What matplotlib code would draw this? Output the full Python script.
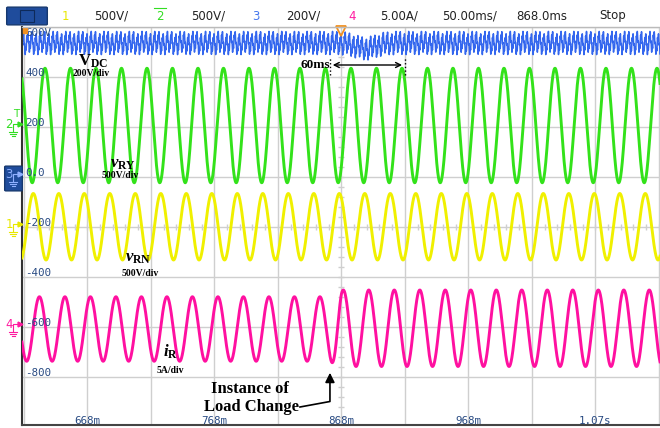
import numpy as np
import matplotlib
matplotlib.use("Agg")
import matplotlib.pyplot as plt
from matplotlib.patches import FancyBboxPatch, Rectangle

plt.rcParams["mathtext.fontset"] = "custom"
plt.rcParams["mathtext.rm"] = "Liberation Serif"
plt.rcParams["mathtext.it"] = "Liberation Serif:italic:bold"
plt.rcParams["mathtext.bf"] = "Liberation Serif:bold"

# scope settings (time in ms, vertical in screen units)
t_left, t_right = 616.5, 1118.9
v_top, v_bottom = 600, -992
t_load = 868.0
period = 20.08

# header texts: (label, x pixel, colour)
header = [("1", 65, "#e8e800"), ("500V/", 111, "#222222"),
          ("2", 160, "#33dd22"), ("500V/", 208, "#222222"),
          ("3", 256, "#4477ee"), ("200V/", 303, "#222222"),
          ("4", 352, "#ff1aa0"), ("5.00A/", 399, "#222222"),
          ("50.00ms/", 470, "#222222"), ("868.0ms", 542, "#222222"),
          ("Stop", 613, "#222222")]

y_ticks = [400, 200, 0, -200, -400, -600, -800]
y_tick_labels = ["400", "200", "0.0", "-200", "-400", "-600", "-800"]
x_ticks = [668, 768, 868, 968, 1068]
x_tick_labels = ["668m", "768m", "868m", "968m", "1.07s"]

# green v_RY: offset, amplitude, time of a peak
vry_offset, vry_amp, vry_peak = 206, 229, 634.6
# yellow v_RN
vrn_offset, vrn_amp, vrn_peak = -199, 133, 625.4
# pink i_R before / after load change
ir_offset = [-608, -605]
ir_amp = [129, 153]
ir_peak = [851.1, 869.5]
# blue V_DC: offset, ripple freqs (Hz) and amplitudes, dip after load change
vdc_offset = 536
vdc_freqs = [300, 1200, 100]
vdc_amps = [32, 13, 6]
vdc_dip_depth, vdc_dip_center, vdc_dip_width = 22, 887, 11

t = np.linspace(t_left, t_right, 8000)
w = 2 * np.pi / period

vry = vry_offset + vry_amp * np.cos(w * (t - vry_peak))
vrn = vrn_offset + vrn_amp * np.cos(w * (t - vrn_peak))

ramp = np.clip((t - (t_load - 10)) / 10, 0, 1)
ir_a = ir_amp[0] + (ir_amp[1] - ir_amp[0]) * ramp
ir_o = ir_offset[0] + (ir_offset[1] - ir_offset[0]) * ramp
ir_p = ir_peak[0] + ((ir_peak[1] - ir_peak[0]) - period) * ramp
ir = ir_o + ir_a * np.cos(w * (t - ir_p))

vdc = np.full_like(t, vdc_offset, dtype=float)
for f, a in zip(vdc_freqs, vdc_amps):
    vdc += a * np.sin(2 * np.pi * f * t / 1000.0)
vdc -= vdc_dip_depth * np.exp(-((t - vdc_dip_center) / vdc_dip_width) ** 2)

fig = plt.figure(figsize=(6.6, 4.28), dpi=100)
W, H = 660, 428


def px(x, y):
    return x / W, 1 - y / H


ax = fig.add_axes([22 / W, 3 / H, 638 / W, 398 / H])
ax.set_xlim(t_left, t_right)
ax.set_ylim(v_bottom, v_top)
ax.set_xticks([]); ax.set_yticks([])
for s in ["top", "right"]:
    ax.spines[s].set_visible(False)
ax.spines["left"].set_color("#333333")
ax.spines["left"].set_linewidth(1.5)
ax.spines["bottom"].set_color("#444444")
ax.spines["bottom"].set_linewidth(1.5)

# graticule
grid_c = "#cfcfcf"
for g in np.arange(618, 1119, 50):
    ax.axvline(g, color=grid_c, lw=1, zorder=0)
for g in np.arange(600, -1000, -200):
    ax.axhline(g, color=grid_c, lw=1, zorder=0)
minor_t = np.arange(618, 1119, 10)
minor_v = np.arange(-960, 600, 40)
ax.plot(minor_t, np.full(len(minor_t), -200), ls="none", marker="|", ms=5,
        color=grid_c, zorder=0)
ax.plot(np.full(len(minor_v), t_load), minor_v, ls="none", marker="_", ms=5,
        color=grid_c, zorder=0)

ax.plot(t, vdc, color="#3366ee", lw=1.1, zorder=2)
ax.plot(t, vry, color="#33e21a", lw=2.1, zorder=3)
ax.plot(t, vrn, color="#f0f000", lw=2.1, zorder=3)
ax.plot(t, ir, color="#ff10a0", lw=2.1, zorder=3)

# tick labels inside the screen
lab_c = "#284a82"
for v, s in zip(y_ticks, y_tick_labels):
    ax.text(618.9, v + 17, s, family="DejaVu Sans Mono", fontsize=7.8,
            color=lab_c, va="center", ha="left", zorder=5)
ax.text(618.9, 574, "600V", family="DejaVu Sans Mono", fontsize=7.8,
        color=lab_c, va="center", ha="left", zorder=5)
for v, s in zip(x_ticks, x_tick_labels):
    ax.text(v, -976, s, family="DejaVu Sans Mono", fontsize=7.8,
            color=lab_c, va="center", ha="center", zorder=5)

# trigger markers
ax.plot([t_load], [586], marker="v", ms=7, mfc="none", mec="#f09020", mew=1.3,
        clip_on=False, zorder=6)
ax.add_patch(Rectangle((617, 575), 3.5, 22, color="#f09020", zorder=6))

# annotations
serif = "Liberation Serif"
ax.text(660.6, 446, r"$\mathbf{V}_{\mathbf{DC}}$", fontsize=12, va="baseline", zorder=7)
ax.text(656.7, 414, "200V/div", family=serif, weight="bold", fontsize=7, va="center", zorder=7)
ax.text(685.8, 36, r"$\mathit{v}_{\mathbf{RY}}$", fontsize=12, va="baseline", zorder=7)
ax.text(679.5, 4, "500V/div", family=serif, weight="bold", fontsize=7, va="center", zorder=7)
ax.text(697.6, -340, r"$\mathit{v}_{\mathbf{RN}}$", fontsize=12, va="baseline", zorder=7)
ax.text(695.2, -386, "500V/div", family=serif, weight="bold", fontsize=7, va="center", zorder=7)
ax.text(727.5, -720, r"$\mathit{i}_{\mathbf{R}}$", fontsize=12, va="baseline", zorder=7)
ax.text(722.8, -774, "5A/div", family=serif, weight="bold", fontsize=7, va="center", zorder=7)

ax.text(836.2, 446, "60ms", family=serif, weight="bold", fontsize=9.5, va="center", zorder=7)
ax.annotate("", xy=(859, 448), xytext=(918, 448),
            arrowprops=dict(arrowstyle="<->", color="black", lw=1, mutation_scale=9), zorder=7)
for tx in [859, 918]:
    ax.plot([tx, tx], [408, 480], color="black", ls=":", lw=1, zorder=7)

ax.text(796, -848, "Instance of", family=serif, weight="bold", fontsize=12,
        ha="center", va="center", zorder=7)
ax.text(797.6, -921, "Load Change", family=serif, weight="bold", fontsize=12,
        ha="center", va="center", zorder=7)
ax.plot([835.4, 859, 859], [-920, -898, -815], color="black", lw=1.2, zorder=7)
ax.annotate("", xy=(859, -772), xytext=(859, -822),
            arrowprops=dict(arrowstyle="-|>", color="black", lw=1.2, mutation_scale=14), zorder=7)

# header bar
fig.patches.append(FancyBboxPatch(px(8, 24), 38 / W, 16 / H, boxstyle="round,pad=0.002",
                                  transform=fig.transFigure, fc="#1f4c9c", ec="#16386f"))
fig.patches.append(Rectangle(px(20, 22), 14 / W, 12 / H, transform=fig.transFigure,
                             fc="#1f4c9c", ec="#0e2a5a", lw=0.8))
for s, x, c in header:
    fig.text(*px(x, 16), s, color=c, fontsize=8.5, ha="center", va="center",
             family="DejaVu Sans")
fig.lines.append(plt.Line2D([154 / W, 166 / W], [1 - 8 / H] * 2, color="#33dd22",
                            lw=0.8, transform=fig.transFigure))

# channel markers on the left
marks = [("2", 126, "#33dd22"), ("3", 176, "#8fb0ff"), ("1", 226, "#e8e800"),
         ("4", 326, "#ff1aa0")]
fig.patches.append(FancyBboxPatch(px(6, 190), 15 / W, 23 / H, boxstyle="round,pad=0.002",
                                  transform=fig.transFigure, fc="#1f4c9c", ec="#16386f"))
for s, y, col in marks:
    fig.text(*px(9, y - 1), s, color=col, fontsize=8.5, ha="center", va="center")
    fig.lines.append(plt.Line2D([13 / W, 13 / W, 19 / W],
                                [1 - (y + 5) / H, 1 - (y - 2) / H, 1 - (y - 2) / H],
                                color=col, lw=0.8, transform=fig.transFigure))
    fig.lines.append(plt.Line2D([20 / W], [1 - (y - 2) / H], marker=">", ms=3.5, color=col,
                                transform=fig.transFigure))
    for k, half in enumerate([4, 2.8, 1.5]):
        yy = 1 - (y + 6 + 2 * k) / H
        fig.lines.append(plt.Line2D([(13 - half) / W, (13 + half) / W], [yy, yy], color=col,
                                    lw=0.8, transform=fig.transFigure))
fig.text(*px(16, 114), "T", color="#33dd22", fontsize=7.5, ha="center", va="center")

# top border of the screen
fig.lines.append(plt.Line2D([22 / W, 1], [1 - 27 / H] * 2, color="#bbbbbb", lw=1,
                            transform=fig.transFigure))

fig.savefig("out.png", dpi=100)
